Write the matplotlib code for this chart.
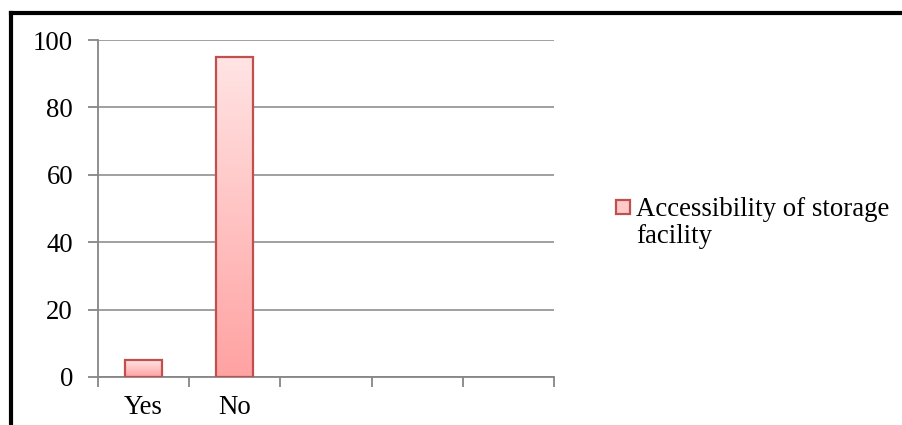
import matplotlib
matplotlib.use("Agg")
import matplotlib.pyplot as plt
import numpy as np
from matplotlib.patches import Rectangle
from matplotlib.lines import Line2D
from matplotlib.colors import LinearSegmentedColormap

plt.rcParams['font.family'] = ['Liberation Serif', 'DejaVu Serif']

categories = ["Yes", "No"]
values = [5, 95]
n_slots = 5
series_name = "Accessibility of storage\nfacility"
y_ticks = [0, 20, 40, 60, 80, 100]

W, H = 902, 425
FS = 19.3
fig = plt.figure(figsize=(W / 100, H / 100), dpi=100)

ax = fig.add_axes([98 / W, 1 - 377 / H, 456 / W, 337 / H])

grid_c = '#868686'
edge_c = '#C0504D'
grad = LinearSegmentedColormap.from_list('pink', ['#FFA2A2', '#FFE4E4'])

x = np.arange(len(categories))
bars = ax.bar(x, values, width=0.405, facecolor='none', edgecolor=edge_c,
              linewidth=1.6, zorder=4)
for b in bars:
    x0, y0 = b.get_x(), b.get_y()
    w, h = b.get_width(), b.get_height()
    g = np.linspace(0, 1, 256).reshape(-1, 1)
    im = ax.imshow(g, cmap=grad, origin='lower', aspect='auto',
                   extent=(x0, x0 + w, y0, y0 + h), zorder=3,
                   interpolation='bilinear')
    im.set_clip_path(b)
ax.set_xlim(-0.5, n_slots - 0.5)
ax.set_ylim(0, 100)

# axes styling
for s in ['top', 'right']:
    ax.spines[s].set_visible(False)
for s in ['left', 'bottom']:
    ax.spines[s].set_color(grid_c)
    ax.spines[s].set_linewidth(1.3)
    ax.spines[s].set_zorder(2)

ax.set_yticks(y_ticks)
ax.set_yticklabels([str(t) for t in y_ticks])
ax.yaxis.grid(True, color=grid_c, linewidth=1.1, zorder=1)
ax.set_axisbelow(True)

ax.set_xticks(np.arange(-0.5, n_slots, 1.0))
ax.set_xticklabels([])
ax.set_xticks(x, minor=True)
ax.set_xticklabels(categories, minor=True)
ax.tick_params(axis='x', which='minor', length=0, pad=13, labelsize=FS)
ax.tick_params(axis='x', which='major', length=7, width=1.3, color=grid_c,
               direction='out')
ax.tick_params(axis='y', length=7, width=1.3, color=grid_c, direction='out',
               pad=11, labelsize=FS)

# legend: key swatch and two-line label (baseline of the last line)
fig.add_artist(Rectangle((616 / W, 1 - 214 / H), 14 / W, 14 / H,
                         transform=fig.transFigure, facecolor='#FFCACA',
                         edgecolor=edge_c, linewidth=1.6))
fig.text(636 / W, 1 - 243 / H, series_name, fontsize=FS, ha='left',
         va='baseline', linespacing=1.1)

# outer frame (top and left edges)
fig.add_artist(Line2D([11 / W, 1.0], [1 - 13 / H, 1 - 13 / H],
                      transform=fig.transFigure, color='black', linewidth=3))
fig.add_artist(Line2D([11 / W, 11 / W], [0.0, 1 - 13 / H],
                      transform=fig.transFigure, color='black', linewidth=3))

fig.savefig('out.png', dpi=100)
